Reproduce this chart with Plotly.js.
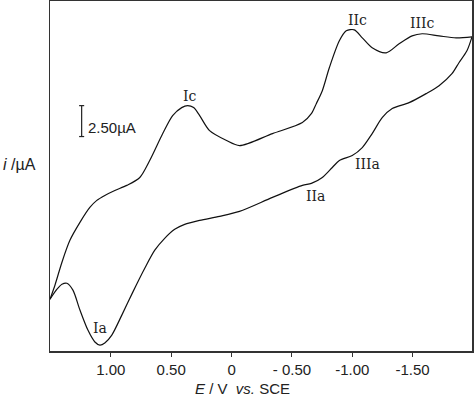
<!DOCTYPE html>
<html><head><meta charset="utf-8">
<script src="https://cdn.plot.ly/plotly-3.0.1.min.js"></script>
<style>body{margin:0;background:#fff}#c{width:474px;height:399px}</style>
</head><body><div id="c"></div>
<script>
// Cathodic sweep (upper curve), E in V vs SCE, i in µA (arbitrary zero)
const E_cath = [1.504,1.463,1.405,1.339,1.256,1.174,1.116,1.050,0.967,0.868,0.760,0.678,0.570,0.488,0.413,0.364,0.314,0.264,0.182,0.041,-0.066,-0.339,-0.587,-0.661,-0.702,-0.752,-0.810,-0.893,-0.950,-1.017,-1.083,-1.165,-1.281,-1.388,-1.496,-1.579,-1.719,-1.860,-1.992];
const i_cath = [4.19,5.32,7.18,8.95,10.40,11.61,12.18,12.58,12.98,13.39,14.03,15.40,17.58,19.03,19.68,19.84,19.68,19.03,17.82,17.02,16.61,17.58,18.47,19.19,20.00,21.05,22.90,25.08,25.89,25.97,25.32,24.52,24.11,24.84,25.48,25.65,25.48,25.32,25.40];
// Anodic sweep (lower curve)
const E_anod = [-1.992,-1.950,-1.884,-1.826,-1.719,-1.612,-1.471,-1.331,-1.248,-1.165,-1.083,-1.000,-0.893,-0.835,-0.752,-0.661,-0.587,-0.339,-0.066,0.099,0.264,0.388,0.471,0.554,0.636,0.719,0.818,0.909,0.992,1.050,1.091,1.132,1.190,1.256,1.314,1.364,1.405,1.446,1.504];
const i_anod = [25.40,24.27,23.31,22.42,21.45,20.81,20.08,19.60,18.87,17.58,16.45,15.81,15.40,14.84,14.03,13.55,13.39,12.42,11.29,10.89,10.56,10.24,9.84,9.11,8.15,6.69,4.76,2.90,1.29,0.65,0.48,0.73,1.69,3.31,4.92,5.48,5.40,5.00,4.19];
const tickVals = [1.0,0.5,0,-0.5,-1.0,-1.5];
const tickText = ['1.00','0.50','0','- 0.50','-1.00','-1.50'];
const peakNames = ['Ic','IIc','IIIc','Ia','IIa','IIIa'];
const peakE = [0.347,-1.041,-1.579,1.091,-0.694,-1.124];
const peakI = [20.65,26.77,26.53,1.85,12.50,15.16];

const lineStyle = {color:'#111', width:1.2, shape:'spline', smoothing:0.8};
const traces = [
  {x:E_cath, y:i_cath, mode:'lines', line:lineStyle, hoverinfo:'skip'},
  {x:E_anod, y:i_anod, mode:'lines', line:lineStyle, hoverinfo:'skip'}
];
const serif = 'DejaVu Serif, Liberation Serif, serif';
const sans = 'Liberation Sans, Arial, sans-serif';
const ann = peakNames.map((n,k)=>({x:peakE[k], y:peakI[k], text:n, showarrow:false,
  font:{family:serif, size:14, color:'#222'}, xref:'x', yref:'y'}));
ann.push({xref:'paper', yref:'paper', x:-0.028, y:0.533, xanchor:'right', text:'<i>i</i> /µA', showarrow:false,
  font:{family:sans, size:16, color:'#222'}});
ann.push({xref:'paper', yref:'paper', x:0.085, y:0.638, xanchor:'left', text:'2.50µA', showarrow:false,
  font:{family:sans, size:15, color:'#222'}});
ann.push({xref:'paper', yref:'paper', x:0.457, y:-0.107, xanchor:'center', yanchor:'middle', text:'<i>E</i> / V  <i>vs.</i> SCE', showarrow:false,
  font:{family:sans, size:15, color:'#222'}});
const layout = {
  width:474, height:399,
  margin:{l:50, r:2, t:1, b:48},
  paper_bgcolor:'#fff', plot_bgcolor:'#fff',
  showlegend:false,
  xaxis:{range:[1.504,-1.992], tickvals:tickVals, ticktext:tickText, ticks:'outside', ticklen:4, tickcolor:'#333',
    showgrid:false, zeroline:false, showline:true, linecolor:'#333', linewidth:1.5, mirror:true,
    tickfont:{family:sans, size:15, color:'#222'}},
  yaxis:{range:[0,28.3], showticklabels:false, ticks:'', showgrid:false, zeroline:false,
    showline:true, linecolor:'#333', linewidth:1.5, mirror:true},
  annotations:ann,
  shapes:[
    {type:'line', xref:'paper', yref:'y', x0:0.075, x1:0.075, y0:17.34, y1:19.84, line:{color:'#222', width:1.2}},
    {type:'line', xref:'paper', yref:'y', x0:0.069, x1:0.081, y0:17.34, y1:17.34, line:{color:'#222', width:1.2}},
    {type:'line', xref:'paper', yref:'y', x0:0.069, x1:0.081, y0:19.84, y1:19.84, line:{color:'#222', width:1.2}}
  ]
};
Plotly.newPlot('c', traces, layout, {staticPlot:true, displayModeBar:false});
</script></body></html>
